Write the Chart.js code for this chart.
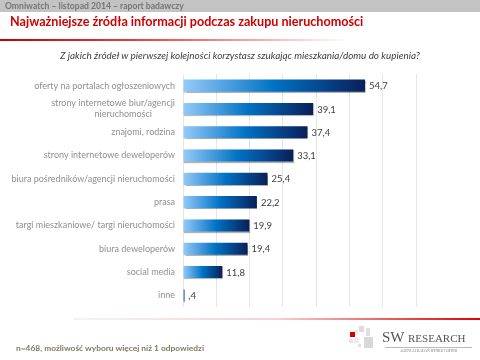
<!DOCTYPE html>
<html>
<head>
<meta charset="utf-8">
<script src="https://cdn.jsdelivr.net/npm/chart.js@4"></script>
<style>
  html, body { margin: 0; padding: 0; background: #fff; }
  #wrap { position: relative; width: 480px; height: 360px; overflow: hidden; font-family: Lato, sans-serif; }
  #chart { position: absolute; left: 0; top: 0; }
  .abs { position: absolute; white-space: nowrap; }
  #topbar { left: 0; top: 0; width: 480px; height: 12px; background: #c3c3c3; }
  #toptxt { left: 5px; top: 0px; font-size: 8.6px; line-height: 12px; font-weight: bold; color: #767676; }
  #title { left: 10px; top: 14px; font-size: 12.6px; font-weight: bold; color: #d00000; }
  #redline { left: 0; top: 39px; width: 350px; height: 2px; background: linear-gradient(to right, #c00000, #e84040 40%, #fff); }
  #question { left: 0; width: 480px; top: 49px; text-align: center; font-size: 9.9px; font-style: italic; color: #404040; }
  #botline { left: 73px; top: 318px; width: 407px; height: 2px; background: linear-gradient(to right, #f4f4f4, #f8d0d0 50%, #e00000); }
  #note { left: 16px; top: 343px; font-size: 8.4px; font-weight: bold; color: #807a60; }
  .sq { position: absolute; }
  #logo1 { left: 382px; top: 330px; font-family: "Liberation Serif", serif; color: #555; font-size: 15px; line-height: 15px; }
  #logo1 span { font-size: 11px; }
  #logo2 { left: 385px; top: 347px; font-family: "Liberation Serif", serif; color: #777; font-size: 3.6px; border-top: 0.5px solid #bbb; padding-top: 1px; width: 87px; text-align: center; }
</style>
</head>
<body>
<div id="wrap">
  <canvas id="chart" width="480" height="360"></canvas>
  <div class="abs" id="topbar"></div>
  <div class="abs" id="toptxt">Omniwatch – listopad 2014 – raport badawczy</div>
  <div class="abs" id="title">Najważniejsze źródła informacji podczas zakupu nieruchomości</div>
  <div class="abs" id="redline"></div>
  <div class="abs" id="question">Z jakich źródeł w pierwszej kolejności korzystasz szukając mieszkania/domu do kupienia?</div>
  <div class="abs" id="botline"></div>
  <div class="abs" id="note">n=468, możliwość wyboru więcej niż 1 odpowiedzi</div>
  <div class="sq" style="left:354px;top:330px;width:4px;height:4px;background:#e8e8e8"></div>
  <div class="sq" style="left:359px;top:326px;width:5px;height:6px;background:#dcdcdc"></div>
  <div class="sq" style="left:350px;top:332px;width:5px;height:5px;background:#d40000"></div>
  <div class="sq" style="left:349px;top:339px;width:4px;height:4px;background:#e4e4e4"></div>
  <div class="sq" style="left:354px;top:338px;width:5px;height:5px;background:#ececec"></div>
  <div class="sq" style="left:358px;top:344px;width:3px;height:3px;background:#e0e0e0"></div>
  <div class="sq" style="left:366px;top:328px;width:4px;height:8px;background:#e0e0e0"></div>
  <div class="sq" style="left:364px;top:337px;width:9px;height:11px;background:#d8d8d8"></div>
  <div class="abs" id="logo1">SW <span>RESEARCH</span></div>
  <div class="abs" id="logo2">AGENCJA BADAŃ RYNKU I OPINII</div>
</div>
<script>
const categories = [
  'oferty na portalach ogłoszeniowych',
  ['strony internetowe biur/agencji', 'nieruchomości          '],
  'znajomi, rodzina',
  'strony internetowe deweloperów',
  'biura pośredników/agencji nieruchomości',
  'prasa',
  'targi mieszkaniowe/ targi nieruchomości',
  'biura deweloperów',
  'social media',
  'inne'
];
const values = [54.7, 39.1, 37.4, 33.1, 25.4, 22.2, 19.9, 19.4, 11.8, 0.4];
const valueLabels = ['54,7', '39,1', '37,4', '33,1', '25,4', '22,2', '19,9', '19,4', '11,8', ',4'];
const xTicks = [0, 10, 20, 30, 40, 50, 60, 70];

function barGradient(c) {
  const chart = c.chart;
  const xs = chart.scales.x;
  if (!xs || c.dataIndex === undefined) return '#0070c0';
  const x0 = xs.getPixelForValue(0);
  const x1 = xs.getPixelForValue(values[c.dataIndex]);
  if (!isFinite(x0) || !isFinite(x1) || x1 - x0 < 1) return '#0a2a6a';
  const g = chart.ctx.createLinearGradient(x0, 0, x1, 0);
  g.addColorStop(0, '#95cbfa');
  g.addColorStop(0.5, '#0072c4');
  g.addColorStop(1, '#0a1f5a');
  return g;
}

const valueLabelPlugin = {
  id: 'valueLabels',
  beforeDatasetsDraw(chart) {
    const ctx = chart.ctx;
    ctx.save();
    ctx.shadowColor = 'rgba(0,0,0,0.3)';
    ctx.shadowOffsetY = 1;
    ctx.shadowOffsetX = 0.5;
    ctx.shadowBlur = 1;
  },
  afterDatasetsDraw(chart) {
    const ctx = chart.ctx;
    ctx.restore();
    ctx.save();
    ctx.font = '9.5px Lato';
    ctx.fillStyle = '#404040';
    ctx.textBaseline = 'middle';
    chart.getDatasetMeta(0).data.forEach((el, i) => {
      ctx.fillText(valueLabels[i], el.x + 4, el.y + 0.5);
    });
    ctx.restore();
  }
};

new Chart(document.getElementById('chart'), {
  type: 'bar',
  data: {
    labels: categories,
    datasets: [{
      data: values,
      backgroundColor: barGradient,
      borderWidth: 0,
      barPercentage: 0.52,
      categoryPercentage: 1
    }]
  },
  options: {
    indexAxis: 'y',
    responsive: false,
    animation: false,
    devicePixelRatio: 1,
    layout: { padding: { top: 74, bottom: 53, right: 64, left: 0 } },
    plugins: { legend: { display: false }, tooltip: { enabled: false } },
    scales: {
      x: {
        min: xTicks[0], max: xTicks[xTicks.length - 1],
        afterBuildTicks: s => { s.ticks = xTicks.map(v => ({ value: v })); },
        ticks: { display: false },
        grid: { color: '#e6e6e6', drawTicks: false },
        border: { display: false }
      },
      y: {
        afterFit: s => { s.width = 183; },
        grid: { display: false, drawTicks: false },
        border: { display: false },
        ticks: { autoSkip: false, color: '#8f8f8f', font: { family: 'Lato', size: 9, lineHeight: 1.2 }, padding: 8 }
      }
    }
  },
  plugins: [valueLabelPlugin]
});
</script>
</body>
</html>
